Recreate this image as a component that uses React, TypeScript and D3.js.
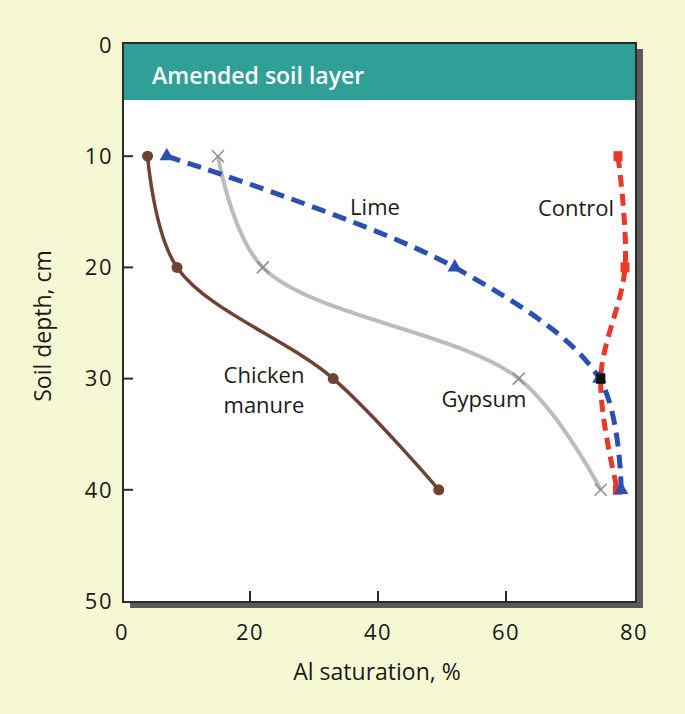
import React from "react";
import * as d3 from "d3";

const xTicks = [0, 20, 40, 60, 80];
const yTicks = [0, 10, 20, 30, 40, 50];
const depths = [10, 20, 30, 40];
const chickenManure = [4, 8.6, 33, 49.5];
const gypsum = [15, 22, 62, 74.8];
const lime = [7, 52, 74.6, 78];
const control = [77.5, 78.6, 74.8, 77.4];

const W = 685;
const H = 714;
const FONT = "'Open Sans', 'DejaVu Sans', sans-serif";

export default function App() {
  const x = d3.scaleLinear().domain([0, 80]).range([122, 634]);
  const y = d3.scaleLinear().domain([0, 50]).range([45, 601]);
  const frame = { x0: 123, x1: 636, y0: 43, y1: 602 };

  const line = d3
    .line<[number, number]>()
    .x((d) => x(d[0]))
    .y((d) => y(d[1]))
    .curve(d3.curveCatmullRom.alpha(0.5));

  const pts = (vals: number[]) => vals.map((v, i) => [v, depths[i]] as [number, number]);

  const tri = d3.symbol().type(d3.symbolTriangle).size(90)();

  return (
    <svg
      width={W}
      height={H}
      style={{ position: "absolute", left: 0, top: 0, display: "block" }}
      fontFamily={FONT}
    >
      <rect x={0} y={0} width={W} height={H} fill="#f6f8d4" />
      {/* shadow */}
      <rect
        x={frame.x0 + 7}
        y={frame.y0 + 6}
        width={frame.x1 - frame.x0}
        height={frame.y1 - frame.y0}
        fill="#5a5a5a"
      />
      <rect
        x={frame.x0}
        y={frame.y0}
        width={frame.x1 - frame.x0}
        height={frame.y1 - frame.y0}
        fill="#ffffff"
      />
      {/* header */}
      <rect x={frame.x0} y={frame.y0} width={frame.x1 - frame.x0} height={57} fill="#2f9f97" />
      <text x={152} y={84} fill="#ffffff" fontSize={23} fontWeight={600}>
        Amended soil layer
      </text>
      <rect
        x={frame.x0}
        y={frame.y0}
        width={frame.x1 - frame.x0}
        height={frame.y1 - frame.y0}
        fill="none"
        stroke="#2b2b2b"
        strokeWidth={2}
      />
      {/* ticks */}
      {yTicks.slice(1, -1).map((t) => (
        <line key={"yt" + t} x1={frame.x0} x2={frame.x0 + 10} y1={y(t)} y2={y(t)} stroke="#2b2b2b" strokeWidth={2} />
      ))}
      {xTicks.slice(1, -1).map((t) => (
        <line key={"xt" + t} x1={x(t)} x2={x(t)} y1={frame.y1} y2={frame.y1 - 11} stroke="#2b2b2b" strokeWidth={2} />
      ))}
      {yTicks.map((t) => (
        <text key={"yl" + t} x={113} y={y(t)} dy="0.35em" textAnchor="end" fontSize={22} fill="#1a1a1a" letterSpacing={1.5}>
          {t}
        </text>
      ))}
      {xTicks.map((t) => (
        <text key={"xl" + t} x={x(t)} y={640} textAnchor="middle" fontSize={22} fill="#1a1a1a" letterSpacing={1.5}>
          {t}
        </text>
      ))}
      <text x={377} y={680} textAnchor="middle" fontSize={23} fill="#1a1a1a">
        Al saturation, %
      </text>
      <text transform="translate(51,326) rotate(-90)" textAnchor="middle" fontSize={23} fill="#1a1a1a">
        Soil depth, cm
      </text>

      {/* series lines */}
      <path d={line(pts(gypsum)) || ""} fill="none" stroke="#bcbcbc" strokeWidth={4} />
      <path d={line(pts(chickenManure)) || ""} fill="none" stroke="#6e4331" strokeWidth={3.5} />
      <path d={line(pts(control)) || ""} fill="none" stroke="#e8392b" strokeWidth={5} strokeDasharray="12 7" />
      <path d={line(pts(lime)) || ""} fill="none" stroke="#2b50b0" strokeWidth={5} strokeDasharray="14 8" />

      {/* markers */}
      {pts(gypsum).map((p, i) => (
        <g key={"g" + i} transform={`translate(${x(p[0])},${y(p[1])})`} stroke="#8c8c8c" strokeWidth={1.5}>
          <line x1={-6} y1={-6} x2={6} y2={6} />
          <line x1={-6} y1={6} x2={6} y2={-6} />
        </g>
      ))}
      {pts(chickenManure).map((p, i) => (
        <circle key={"c" + i} cx={x(p[0])} cy={y(p[1])} r={5.5} fill="#6e4331" />
      ))}
      {pts(control).map((p, i) => (
        <rect
          key={"s" + i}
          x={x(p[0]) - 4.5}
          y={y(p[1]) - 5}
          width={9}
          height={10}
          fill={i === 2 ? "#111111" : "#e8392b"}
        />
      ))}
      {pts(lime).map((p, i) => (
        <path key={"t" + i} d={tri || ""} transform={`translate(${x(p[0])},${y(p[1])})`} fill="#2b50b0" />
      ))}
      <rect x={x(control[2]) - 4.5} y={y(depths[2]) - 5} width={9} height={10} fill="#111111" />

      {/* labels */}
      <text x={375} y={215} textAnchor="middle" fontSize={22} fill="#1a1a1a">Lime</text>
      <text x={576} y={216} textAnchor="middle" fontSize={22} fill="#1a1a1a">Control</text>
      <text x={264} y={383} textAnchor="middle" fontSize={22} fill="#1a1a1a">Chicken</text>
      <text x={264} y={413} textAnchor="middle" fontSize={22} fill="#1a1a1a">manure</text>
      <text x={484} y={407} textAnchor="middle" fontSize={22} fill="#1a1a1a">Gypsum</text>
    </svg>
  );
}
